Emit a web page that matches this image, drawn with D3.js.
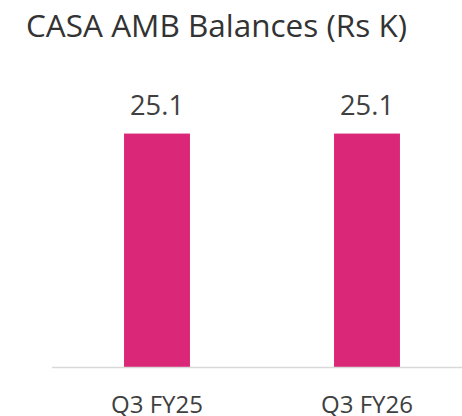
<!DOCTYPE html>
<html>
<head>
<meta charset="utf-8">
<script src="https://cdn.jsdelivr.net/npm/d3@7"></script>
<style>
  body { margin: 0; background: #fff; }
  text { font-family: "Open Sans", "Noto Sans", sans-serif; }
</style>
</head>
<body>
<svg width="462" height="416"></svg>
<script>
/* data */
var categories = ["Q3 FY25", "Q3 FY26"];
var values = [25.1, 25.1];
var title = "CASA AMB Balances (Rs K)";

var svg = d3.select("svg"),
    baseY = 367;

var x = d3.scaleBand()
    .domain(categories)
    .range([52, 472])
    .paddingInner(0.686)
    .paddingOuter(0.343);

var y = d3.scaleLinear().domain([0, 30]).range([baseY, 88]);

svg.append("text")
    .attr("x", 26)
    .attr("y", 37)
    .attr("fill", "#333")
    .attr("textLength", 381)
    .attr("lengthAdjust", "spacingAndGlyphs")
    .style("font-size", "31px")
    .text(title);

var data = categories.map(function(c, i) { return {cat: c, val: values[i]}; });

svg.selectAll(".bar")
  .data(data)
  .enter().append("rect")
    .attr("class", "bar")
    .attr("x", function(d) { return x(d.cat); })
    .attr("y", function(d) { return y(d.val); })
    .attr("width", x.bandwidth())
    .attr("height", function(d) { return baseY - y(d.val); })
    .attr("fill", "#db2777");

/* baseline */
svg.append("line")
    .attr("x1", 52).attr("x2", 462)
    .attr("y1", baseY + 0.5).attr("y2", baseY + 0.5)
    .attr("stroke", "#d9d9d9")
    .attr("stroke-width", 1.5);

svg.selectAll(".val")
  .data(data)
  .enter().append("text")
    .attr("class", "val")
    .attr("x", function(d) { return x(d.cat) + x.bandwidth() / 2; })
    .attr("y", function(d) { return y(d.val) - 19; })
    .attr("text-anchor", "middle")
    .attr("fill", "#404040")
    .attr("textLength", 54)
    .attr("lengthAdjust", "spacingAndGlyphs")
    .style("font-size", "28px")
    .text(function(d) { return d.val.toFixed(1); });

svg.selectAll(".cat")
  .data(categories)
  .enter().append("text")
    .attr("class", "cat")
    .attr("x", function(d) { return x(d) + x.bandwidth() / 2; })
    .attr("y", 413)
    .attr("text-anchor", "middle")
    .attr("fill", "#404040")
    .attr("textLength", 92)
    .attr("lengthAdjust", "spacingAndGlyphs")
    .style("font-size", "24px")
    .text(function(d) { return d; });
</script>
</body>
</html>
